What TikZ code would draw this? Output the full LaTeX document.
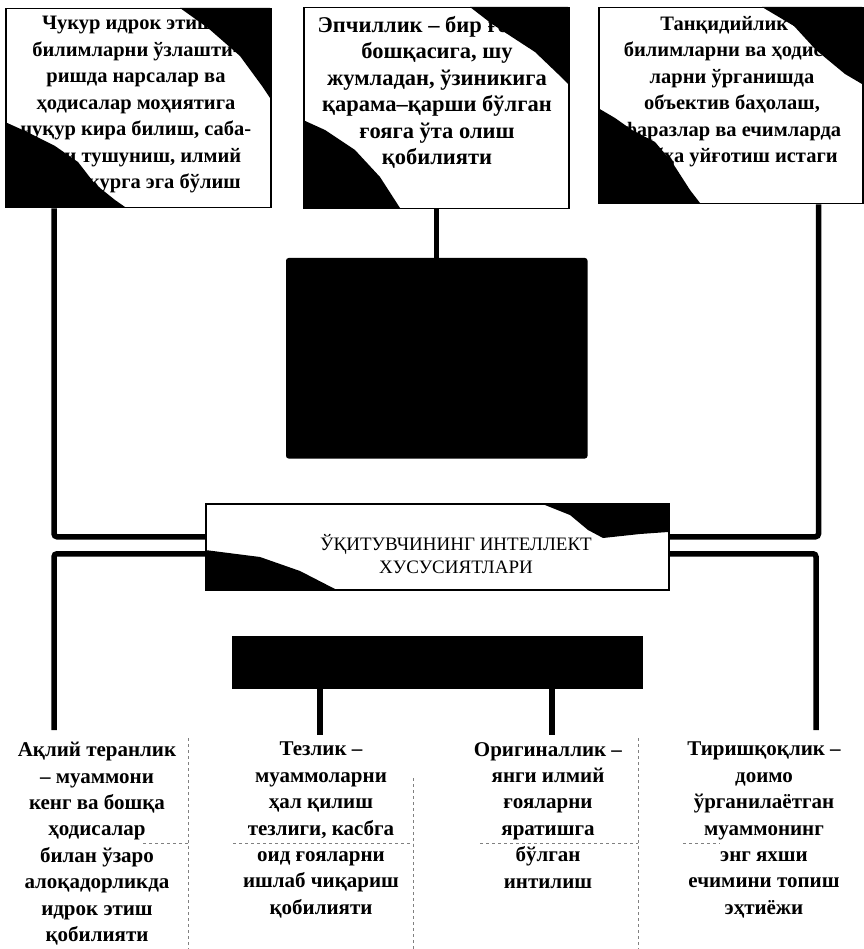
\documentclass[tikz,border=0pt]{standalone}
\usepackage{fontspec}
\setmainfont{Liberation Serif}
\begin{document}
\begin{tikzpicture}[x=1pt,y=-1pt,
  box/.style={draw=black, line width=1.5pt, inner sep=0pt, anchor=north west},
  blk/.style={fill=black, draw=black, line width=1.5pt, inner sep=0pt, anchor=north west, rounded corners=2pt},
  txt/.style={align=center, inner sep=0pt, anchor=north, font=\bfseries\fontsize{20.5}{26.5}\selectfont},
  conn/.style={line width=5.5pt, rounded corners=3pt},
  blot/.style={fill=black},
  frame/.style={black!50, dashed, dash pattern=on 3pt off 3pt, line width=0.6pt}]
\useasboundingbox (0,0) rectangle (863,949);
% dark corners of the top boxes
\fill[blot] (180,8) -- (270,8) -- (270,98) -- (262,86) -- (240,56) -- (208,28) -- cycle;
\fill[blot] (5,122) -- (25,131) -- (55,146) -- (78,162) -- (95,184) -- (115,200) -- (125,207) -- (5,207) -- cycle;
\fill[blot] (470,7) -- (568,7) -- (568,84) -- (558,74) -- (535,52) -- (492,24) -- cycle;
\fill[blot] (303,120) -- (325,130) -- (355,150) -- (380,177) -- (400,208) -- (303,208) -- cycle;
\fill[blot] (762,7) -- (862,7) -- (862,84) -- (845,74) -- (816,50) -- (794,26) -- cycle;
\fill[blot] (598,108) -- (615,118) -- (632,130) -- (655,142) -- (672,162) -- (690,190) -- (700,203) -- (598,203) -- cycle;
% dark corners of the title box
\fill[blot] (540,503) -- (668,503) -- (668,532) -- (640,534) -- (603,538) -- (588,530) -- (570,515) -- cycle;
\fill[blot] (205,550) -- (260,557) -- (300,571) -- (335,589) -- (205,589) -- cycle;

% top boxes
\node[box, minimum width=265pt, minimum height=199pt] (b1) at (5,8) {};
\node[box, minimum width=265pt, minimum height=201pt] (b2) at (303,7) {};
\node[box, minimum width=264pt, minimum height=196pt] (b3) at (598,7) {};
\node[txt] (b1t) at (136,16) {Чукур идрок этиш –\\билимларни ўзлашти-\\ришда нарсалар ва\\ҳодисалар моҳиятига\\чуқур кира билиш, саба-\\бини тушуниш, илмий\\тафаккурга эга бўлиш};
\node[txt, font=\bfseries\fontsize{22.5}{26.5}\selectfont] (b2t) at (437,16) {Эпчиллик – бир ғоядан\\бошқасига, шу\\жумладан, ўзиникига\\қарама–қарши бўлган\\ғояга ўта олиш\\қобилияти};
\node[txt] (b3t) at (732,16) {Танқидийлик –\\билимларни ва ҳодиса-\\ларни ўрганишда\\объектив баҳолаш,\\фаразлар ва ечимларда\\шубҳа уйғотиш истаги};

% central black box
\node[blk, minimum width=300pt, minimum height=199pt] (c) at (286,258) {};

% title box
\node[box, minimum width=463pt, minimum height=86pt] (t) at (205,503) {};
\node[align=center, inner sep=0pt, font=\fontsize{19}{23}\selectfont] (tt) at (456,554) {ЎҚИТУВЧИНИНГ ИНТЕЛЛЕКТ\\ХУСУСИЯТЛАРИ};

% small black box
\node[blk, rounded corners=0pt, minimum width=409pt, minimum height=51pt] (s) at (232,636) {};

% bottom texts
\node[txt, font=\bfseries\fontsize{21}{26.4}\selectfont] (d1) at (97,742) {Ақлий теранлик\\– муаммони\\кенг ва бошқа\\ҳодисалар\\билан ўзаро\\алоқадорликда\\идрок этиш\\қобилияти};
\node[txt, font=\bfseries\fontsize{21}{26.4}\selectfont] (d2) at (321,742) {Тезлик –\\муаммоларни\\ҳал қилиш\\тезлиги, касбга\\оид ғояларни\\ишлаб чиқариш\\қобилияти};
\node[txt, font=\bfseries\fontsize{21}{26.4}\selectfont] (d3) at (548,742) {Оригиналлик –\\янги илмий\\ғояларни\\яратишга\\бўлган\\интилиш};
\node[txt, font=\bfseries\fontsize{21}{26.4}\selectfont] (d4) at (764,742) {Тиришқоқлик –\\доимо\\ўрганилаётган\\муаммонинг\\энг яхши\\ечимини топиш\\эҳтиёжи};

% faint frame lines of the bottom texts
\draw[frame] (188,738) -- (188,949);
\draw[frame] (413,778) -- (413,949);
\draw[frame] (638,738) -- (638,949);
\draw[frame] (143,843) -- (188,843);
\draw[frame] (233,843) -- (413,843);
\draw[frame] (480,843) -- (638,843);
\draw[frame] (683,843) -- (720,843);

% connectors
\coordinate (e1) at (54,730);
\coordinate (e2) at (320,735);
\coordinate (e3) at (552,735);
\coordinate (e4) at (816,730);
\draw[conn] ([xshift=49pt]b1.south west) |- ([yshift=10pt]t.west);
\draw[conn] ([xshift=-45pt]b3.south east) |- ([yshift=10pt]t.east);
\draw[conn] (b2.south) -- (b2.south |- c.north);
\draw[conn] ([yshift=-7pt]t.west) -| (e1);
\draw[conn] ([yshift=-7pt]t.east) -| (e4);
\draw[conn] (s.south -| e2) -- (e2);
\draw[conn] (s.south -| e3) -- (e3);
\end{tikzpicture}
\end{document}
